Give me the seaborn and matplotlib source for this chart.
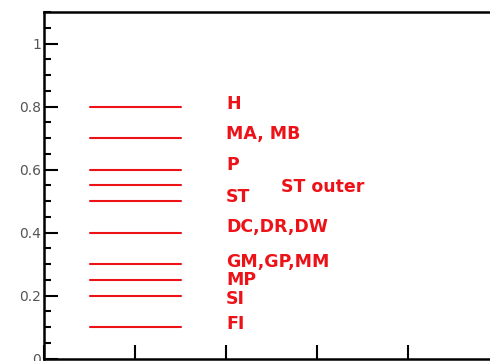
import matplotlib
matplotlib.use("Agg")
import matplotlib.pyplot as plt
import pandas as pd
import seaborn as sns
from matplotlib.ticker import MultipleLocator

# horizontal level lines
levels = [0.8, 0.7, 0.6, 0.55, 0.5, 0.4, 0.3, 0.25, 0.2, 0.1]
line_start = 0.5
line_end = 1.5

# labels beside the lines (baseline positions)
labels = ["H", "MA, MB", "P", "ST", "ST outer", "DC,DR,DW", "GM,GP,MM", "MP", "SI", "FI"]
label_x = [2.0, 2.0, 2.0, 2.0, 2.6, 2.0, 2.0, 2.0, 2.0, 2.0]
label_y = [0.792, 0.696, 0.598, 0.497, 0.529, 0.401, 0.291, 0.232, 0.174, 0.093]

sns.set_theme(style="white")
plt.rcParams['font.family'] = ['DejaVu Sans']

rows = []
for lv in levels:
    rows.append({"x": line_start, "y": lv, "level": lv})
    rows.append({"x": line_end, "y": lv, "level": lv})
df = pd.DataFrame(rows)

fig = plt.figure(figsize=(4.9, 3.61), dpi=100)
ax = fig.add_axes([0.0898, 0.0069, 0.9286, 0.9598])

sns.lineplot(data=df, x="x", y="y", units="level", estimator=None,
             color="#ec1218", linewidth=1.5, ax=ax)

for txt, tx, ty in zip(labels, label_x, label_y):
    ax.text(tx, ty, txt, color="#ec1218", fontsize=12.5, fontweight="bold",
            ha="left", va="baseline")

ax.set_xlim(0, 5)
ax.set_ylim(0, 1.1)
ax.set_xlabel("")
ax.set_ylabel("")
ax.xaxis.set_major_locator(MultipleLocator(1))
ax.yaxis.set_minor_locator(MultipleLocator(0.05))
ax.set_yticks([0, 0.2, 0.4, 0.6, 0.8, 1.0])
ax.set_yticklabels(["0", "0.2", "0.4", "0.6", "0.8", "1"])
ax.set_xticklabels([])
ax.tick_params(axis="both", which="major", direction="in", length=10, width=1.5,
               color="black", labelsize=10, labelcolor="#555555", pad=2,
               left=True, bottom=True)
ax.tick_params(axis="y", which="minor", direction="in", length=5, width=1.5,
               color="black", left=True)
for s in ax.spines.values():
    s.set_linewidth(1.8)
    s.set_color("black")

fig.savefig("out.png", dpi=100)
